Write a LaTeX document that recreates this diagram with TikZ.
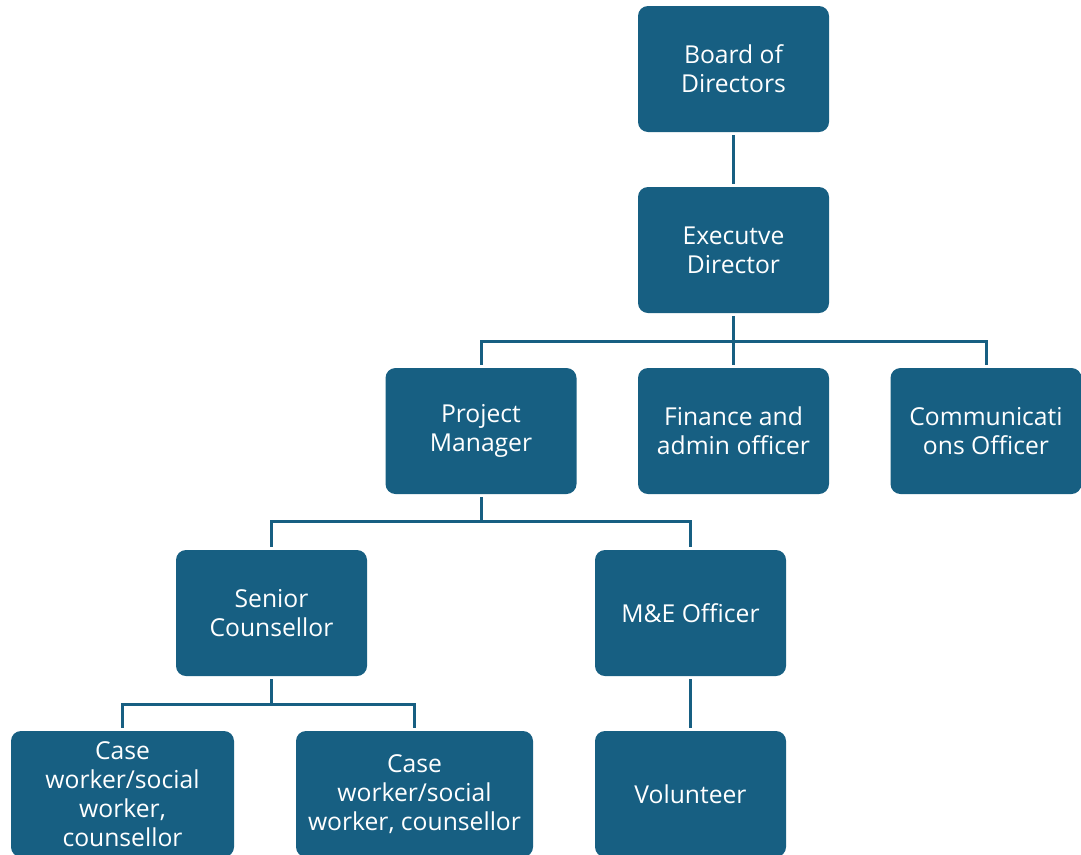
\documentclass[tikz,border=0pt]{standalone}
\usepackage{fontspec}
\setmainfont{Open Sans}
\definecolor{boxblue}{HTML}{175F82}
\begin{document}
\begin{tikzpicture}[x=0.75pt,y=-0.75pt,
  box/.style={fill=boxblue, rounded corners=7.5pt, text=white, align=center,
    minimum width=143.25pt, minimum height=94.5pt, inner sep=0pt,
    font=\fontsize{18.5}{21.75}\selectfont},
  conn/.style={draw=boxblue, line width=2.25pt, shorten <=2.25pt, shorten >=2.25pt}]
\useasboundingbox (0,0) rectangle (1081,854);
\begin{scope}
\clip (0,0) rectangle (1081,854);
% top of the hierarchy
\node[box] (board) at (733.5,69) {Board of\\Directors};
\node[box] (exec) at (733.5,250) {Executve\\Director};
% third level
\node[box] (pm) at (481,431) {Project\\Manager};
\node[box] (fin) at (733.5,431) {Finance and\\admin officer};
\node[box] (comm) at (986,431) {Communicati\\ons Officer};
% fourth level
\node[box] (senior) at (271.5,613) {Senior\\Counsellor};
\node[box] (me) at (690.5,613) {M\&E Officer};
% bottom level
\node[box, minimum width=167.25pt] (case1) at (122.5,794) {Case\\worker/social\\worker,\\counsellor};
\node[box, minimum width=177.75pt] (case2) at (414.5,794) {Case\\worker/social\\worker, counsellor};
\node[box] (vol) at (690.5,794) {Volunteer};
\end{scope}
% reporting lines
\draw[conn] (board.south) -- (exec.north);
\draw[conn] (exec.south) -- ++(0,28) -| (pm.north);
\draw[conn] (exec.south) -- (fin.north);
\draw[conn] (exec.south) -- ++(0,28) -| (comm.north);
\draw[conn] (pm.south) -- ++(0,27) -| (senior.north);
\draw[conn] (pm.south) -- ++(0,27) -| (me.north);
\draw[conn] (senior.south) -- ++(0,28) -| (case1.north);
\draw[conn] (senior.south) -- ++(0,28) -| (case2.north);
\draw[conn] (me.south) -- (vol.north);
\end{tikzpicture}
\end{document}
